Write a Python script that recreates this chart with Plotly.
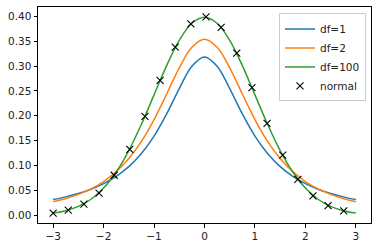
import plotly.graph_objects as go

# curve sample points
x_curve = [-3.0, -2.75, -2.5, -2.25, -2.0, -1.75, -1.5, -1.25, -1.0, -0.75, -0.5, -0.25, 0.0,
           0.25, 0.5, 0.75, 1.0, 1.25, 1.5, 1.75, 2.0, 2.25, 2.5, 2.75, 3.0]
df1_half = [0.3183, 0.2996, 0.2546, 0.2037, 0.1592, 0.1242, 0.0979, 0.0784, 0.0637, 0.0525, 0.0439, 0.0372, 0.0318]
df2_half = [0.3536, 0.3376, 0.2963, 0.2438, 0.1925, 0.1487, 0.1141, 0.0878, 0.0680, 0.0533, 0.0422, 0.0338, 0.0274]
df100_half = [0.3979, 0.3858, 0.3514, 0.3008, 0.2420, 0.1830, 0.1302, 0.0871, 0.0548, 0.0324, 0.0181, 0.0095, 0.0048]
df1_y = df1_half[::-1] + df1_half[1:]
df2_y = df2_half[::-1] + df2_half[1:]
df100_y = df100_half[::-1] + df100_half[1:]

x_normal = [-3.00, -2.70, -2.39, -2.09, -1.79, -1.48, -1.18, -0.88, -0.58, -0.27,
            0.03, 0.33, 0.64, 0.94, 1.24, 1.55, 1.85, 2.15, 2.45, 2.76]
y_normal = [0.0044, 0.0105, 0.0227, 0.0448, 0.0806, 0.1325, 0.1987, 0.2711, 0.3378, 0.3844,
            0.3988, 0.3777, 0.3257, 0.2566, 0.1846, 0.1210, 0.0723, 0.0393, 0.0195, 0.0089]

x_ticks = [-3, -2, -1, 0, 1, 2, 3]
x_ticktext = ["−3", "−2", "−1", "0", "1", "2", "3"]
y_ticks = [0.0, 0.05, 0.10, 0.15, 0.20, 0.25, 0.30, 0.35, 0.40]
y_ticktext = ["0.00", "0.05", "0.10", "0.15", "0.20", "0.25", "0.30", "0.35", "0.40"]

fig = go.Figure()
for name, ys, col in [("df=1", df1_y, "#1f77b4"), ("df=2", df2_y, "#ff7f0e"), ("df=100", df100_y, "#2ca02c")]:
    fig.add_trace(go.Scatter(x=x_curve, y=ys, mode="lines", name=name,
                             line=dict(color=col, width=1.5, shape="spline", smoothing=1.0)))
fig.add_trace(go.Scatter(x=x_normal, y=y_normal, mode="markers", name="normal",
                         marker=dict(symbol="x-thin", size=7, line=dict(color="black", width=1.1), color="black")))

axis_common = dict(showgrid=False, zeroline=False, showline=True, linecolor="black", linewidth=1,
                   mirror=True, ticks="outside", ticklen=3.5, tickwidth=1, tickcolor="black",
                   tickfont=dict(family="DejaVu Sans", size=10.5, color="#222"))
fig.update_xaxes(range=[-3.3, 3.3], tickvals=x_ticks, ticktext=x_ticktext, **axis_common)
fig.update_yaxes(range=[-0.0153, 0.4185], tickvals=y_ticks, ticktext=y_ticktext, **axis_common)

fig.update_layout(
    width=378, height=248,
    margin=dict(l=38, r=7, t=6, b=24),
    plot_bgcolor="white", paper_bgcolor="white",
    font=dict(family="DejaVu Sans", size=10, color="#222"),
    legend=dict(x=0.985, y=0.97, xanchor="right", yanchor="top",
                bgcolor="rgba(255,255,255,0.8)", bordercolor="#cccccc", borderwidth=1,
                font=dict(size=10.5), tracegroupgap=0, itemwidth=30),
    showlegend=True,
)

fig.write_html("out.html")
